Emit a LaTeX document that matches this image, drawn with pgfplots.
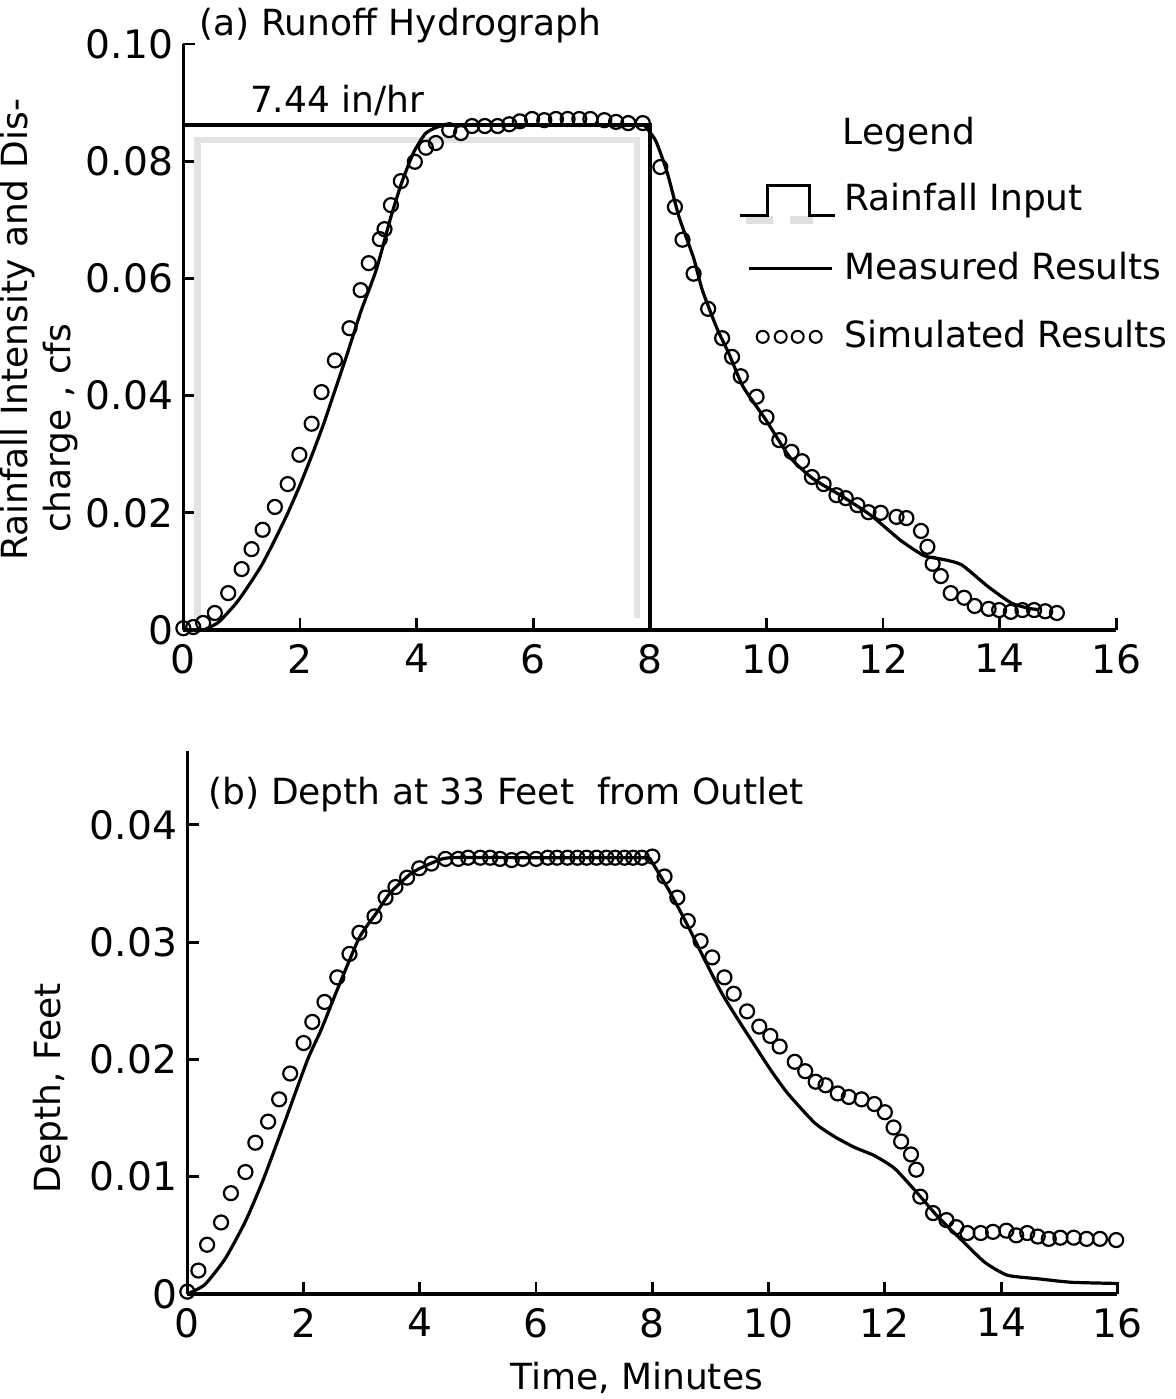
\documentclass[border=0pt]{standalone}
\usepackage{fontspec}
\setmainfont{DejaVu Sans}
\usepackage{pgfplots}
\pgfplotsset{compat=1.18}

% 1 px of the reference = 0.25pt
\pgfplotsset{
  hydro/.style={
    scale only axis,
    axis x line=bottom, axis y line=left,
    axis line style={-, line width=0.85pt},
    tick align=inside, major tick length=3pt,
    tick style={line width=0.7pt, black},
    xmin=0, xmax=16, ymin=0,
    xtick={0,2,...,16},
    scaled y ticks=false,
    font=\fontsize{9pt}{10.8pt}\selectfont,
    tick label style={font=\fontsize{9.8pt}{11.5pt}\selectfont},
    /pgf/number format/assume math mode=true,
    yticklabel style={xshift=1pt},
    clip=false,
  },
  meas/.style={black, line width=0.8pt, smooth, tension=0.35, no markers},
  simu/.style={only marks, mark=o, mark size=1.75pt, mark options={line width=0.55pt, black}},
}

\begin{document}
\begin{tikzpicture}
% frame with the reference's proportions
\path (-44.75pt,157.5pt) rectangle (245.75pt,-192.25pt);

%------------------------------------------------ (a)
\begin{axis}[hydro,
  at={(0pt,0pt)}, anchor=south west,
  width=233.25pt, height=146.5pt,
  ymax=0.10,
  ytick={0,0.02,0.04,0.06,0.08,0.10},
  yticklabels={0,0.02,0.04,0.06,0.08,0.10},
  ylabel={Rainfall Intensity and Dis-\\\hspace*{7pt}charge , cfs},
  ylabel style={align=left, at={(axis description cs:-0.112,0.512)}, anchor=south, inner sep=0pt},
  legend style={at={(axis cs:9.5,0.0777)}, anchor=north west, draw=none, fill=none,
    font=\fontsize{9pt}{10.8pt}\selectfont, row sep=4.75pt, inner sep=0pt,
    nodes={inner sep=2pt}},
  legend cell align=left,
]
% rainfall input (gray trace under the step)
\addplot[gray!22, line width=1.7pt, forget plot] coordinates {
  (0.24,0.002) (0.24,0.0836) (7.78,0.0836) (7.78,0.002)
};
\addplot[black, line width=0.85pt,
  legend image code/.code={
    \fill[gray!25] (2pt,-4.5pt) rectangle (8pt,-5.5pt);
    \fill[gray!25] (13pt,-4.5pt) rectangle (18pt,-5.5pt);
    \draw[black, line width=0.8pt] (0pt,-3.75pt) -- (7pt,-3.75pt) -- (7pt,3.75pt)
      -- (17.5pt,3.75pt) -- (17.5pt,-3.75pt) -- (23.75pt,-3.75pt);
  }] coordinates {
  (0,0.0862) (8,0.0862) (8,0)
};
\addlegendentry{Rainfall Input}
\addplot[meas,
  legend image code/.code={
    \path[draw=none] (0pt,0pt) -- (23.75pt,0pt);
    \draw[black, line width=0.85pt] (2.25pt,0pt) -- (23pt,0pt);
  }] coordinates {
  (0.35,0) (0.6,0.0013) (0.9,0.0045) (1.1,0.0073) (1.34,0.0110) (1.55,0.0150)
  (1.78,0.0197) (2.0,0.0247) (2.2,0.0297) (2.4,0.0350) (2.57,0.0400) (2.8,0.0468)
  (3.05,0.0545) (3.31,0.0615) (3.56,0.0705) (3.75,0.0765) (3.95,0.0815) (4.15,0.0847)
  (4.35,0.0858) (4.6,0.0862) (6.0,0.0862) (7.9,0.0862)
};
\addlegendentry{Measured Results}
\addplot[meas, forget plot] coordinates {
  (7.9,0.0862) (8.1,0.0835) (8.3,0.0780) (8.5,0.0705) (8.75,0.0635) (8.9,0.0580)
  (9.15,0.0515) (9.35,0.0473) (9.6,0.0415) (9.98,0.0360) (10.4,0.0295) (10.8,0.0258)
  (11.3,0.0228) (11.8,0.0195) (12.3,0.0153) (12.7,0.0127) (13.05,0.0120) (13.35,0.0111)
  (13.8,0.0074) (14.2,0.0046) (14.5,0.0037) (14.65,0.0035)
};
\addplot[simu,
  legend image code/.code={
    \path[draw=none] (0pt,0pt) -- (23.75pt,0pt);
    \foreach \cx in {5.75,10.25,14.5,19} {\draw[black, line width=0.5pt] (\cx pt,0pt) circle (1.5pt);}
  }] coordinates {
  (0,0.0003) (0.17,0.0005) (0.34,0.0012) (0.54,0.0029) (0.77,0.0063) (1.0,0.0104)
  (1.17,0.0138) (1.36,0.0171) (1.57,0.0210) (1.79,0.0249) (1.99,0.0299) (2.2,0.0352)
  (2.37,0.0406) (2.6,0.0460) (2.85,0.0515) (3.04,0.0580) (3.18,0.0626) (3.37,0.0667)
  (3.45,0.0684) (3.56,0.0725) (3.73,0.0766) (3.97,0.0799) (4.16,0.0823) (4.33,0.0831)
  (4.56,0.0853) (4.76,0.0848) (4.95,0.0860) (5.17,0.0860) (5.39,0.0860) (5.59,0.0863)
  (5.77,0.0868) (5.98,0.0872) (6.19,0.0870) (6.39,0.0872) (6.59,0.0872) (6.79,0.0872)
  (6.98,0.0872) (7.22,0.0870) (7.42,0.0867) (7.63,0.0865) (7.88,0.0865) (8.18,0.0790)
  (8.43,0.0722) (8.56,0.0666) (8.75,0.0608) (9.0,0.0548) (9.24,0.0498) (9.41,0.0466)
  (9.56,0.0433) (9.83,0.0398) (10.0,0.0363) (10.22,0.0324) (10.43,0.0304) (10.61,0.0288)
  (10.78,0.0261) (10.98,0.0249) (11.2,0.0230) (11.36,0.0225) (11.56,0.0213) (11.75,0.0201)
  (11.96,0.0200) (12.23,0.0193) (12.4,0.0191) (12.65,0.0169) (12.76,0.0142) (12.85,0.0113)
  (12.99,0.0092) (13.16,0.0063) (13.39,0.0055) (13.57,0.0041) (13.81,0.0036) (13.99,0.0034)
  (14.19,0.0031) (14.39,0.0034) (14.59,0.0034) (14.78,0.0032) (14.98,0.0029)
};
\addlegendentry{Simulated Results}
\node[anchor=west, inner sep=0pt] at (axis cs:0.27,0.1032) {(a) Runoff Hydrograph};
\node[anchor=west, inner sep=0pt] at (axis cs:1.13,0.0904) {7.44 in/hr};
\node[inner sep=0pt] at (axis cs:12.44,0.0845) {Legend};
\end{axis}

%------------------------------------------------ (b)
\begin{axis}[hydro,
  at={(1pt,-166pt)}, anchor=south west,
  width=232.5pt, height=135.75pt,
  ymax=0.0463,
  ytick={0,0.01,0.02,0.03,0.04},
  yticklabels={0,0.01,0.02,0.03,0.04},
  ylabel={Depth, Feet},
  ylabel style={at={(axis description cs:-0.127,0.379)}, anchor=south, inner sep=0pt},
  xlabel={Time, Minutes},
  xlabel style={at={(axis description cs:0.483,-0.155)}, anchor=center, inner sep=0pt},
]
\addplot[meas] coordinates {
  (0,0) (0.3,0.0008) (0.65,0.0030) (1.0,0.0062) (1.31,0.0098) (1.7,0.0150)
  (2.07,0.0200) (2.3,0.0225) (2.6,0.0262) (2.96,0.0304) (3.24,0.0324) (3.49,0.0342)
  (3.86,0.0359) (4.23,0.0368) (4.53,0.0372) (6.0,0.0372) (7.95,0.0372)
};
\addplot[meas] coordinates {
  (7.95,0.0372) (8.3,0.0343) (8.6,0.0315) (8.9,0.0285) (9.2,0.0256) (9.5,0.0232)
  (9.76,0.0212) (10.05,0.0190) (10.33,0.0171) (10.79,0.0146) (11.14,0.0134)
  (11.48,0.0125) (11.82,0.0118) (12.17,0.0107) (12.56,0.0086) (12.91,0.0066)
  (13.32,0.0046) (13.72,0.0027) (14.11,0.0016) (14.63,0.0013) (15.21,0.0010) (16.0,0.0009)
};
\addplot[simu] coordinates {
  (0,0.0002) (0.19,0.0020) (0.34,0.0042) (0.58,0.0061) (0.75,0.0086) (1.0,0.0104)
  (1.17,0.0129) (1.39,0.0147) (1.58,0.0166) (1.77,0.0188) (2.0,0.0214) (2.15,0.0232)
  (2.36,0.0249) (2.58,0.0270) (2.79,0.0290) (2.96,0.0308) (3.22,0.0322) (3.41,0.0338)
  (3.58,0.0347) (3.78,0.0355) (3.99,0.0363) (4.2,0.0367) (4.44,0.0371) (4.66,0.0371)
  (4.83,0.0372) (5.04,0.0372) (5.21,0.0372) (5.38,0.0371) (5.58,0.0370) (5.77,0.0371)
  (6.0,0.0371) (6.2,0.0372) (6.36,0.0372) (6.54,0.0372) (6.71,0.0372) (6.87,0.0372)
  (7.04,0.0372) (7.21,0.0372) (7.36,0.0372) (7.52,0.0372) (7.67,0.0372) (7.82,0.0372)
  (8.0,0.0373) (8.21,0.0356) (8.43,0.0338) (8.61,0.0318) (8.83,0.0301) (9.03,0.0287)
  (9.24,0.0270) (9.4,0.0256) (9.63,0.0241) (9.84,0.0228) (10.03,0.0220) (10.19,0.0211)
  (10.45,0.0198) (10.63,0.0190) (10.81,0.0181) (10.98,0.0178) (11.19,0.0171) (11.38,0.0168)
  (11.6,0.0166) (11.82,0.0162) (12.0,0.0155) (12.15,0.0142) (12.28,0.0130) (12.45,0.0119)
  (12.54,0.0106) (12.61,0.0083) (12.83,0.0069) (13.06,0.0063) (13.23,0.0057) (13.42,0.0052)
  (13.65,0.0052) (13.86,0.0053) (14.09,0.0054) (14.26,0.0050) (14.45,0.0052) (14.63,0.0049)
  (14.82,0.0047) (15.02,0.0048) (15.25,0.0048) (15.47,0.0047) (15.7,0.0047) (15.98,0.0046)
};
\node[anchor=west, inner sep=0pt] at (axis cs:0.355,0.0426) {(b) Depth at 33 Feet\ \ from Outlet};
\end{axis}
\end{tikzpicture}
\end{document}
